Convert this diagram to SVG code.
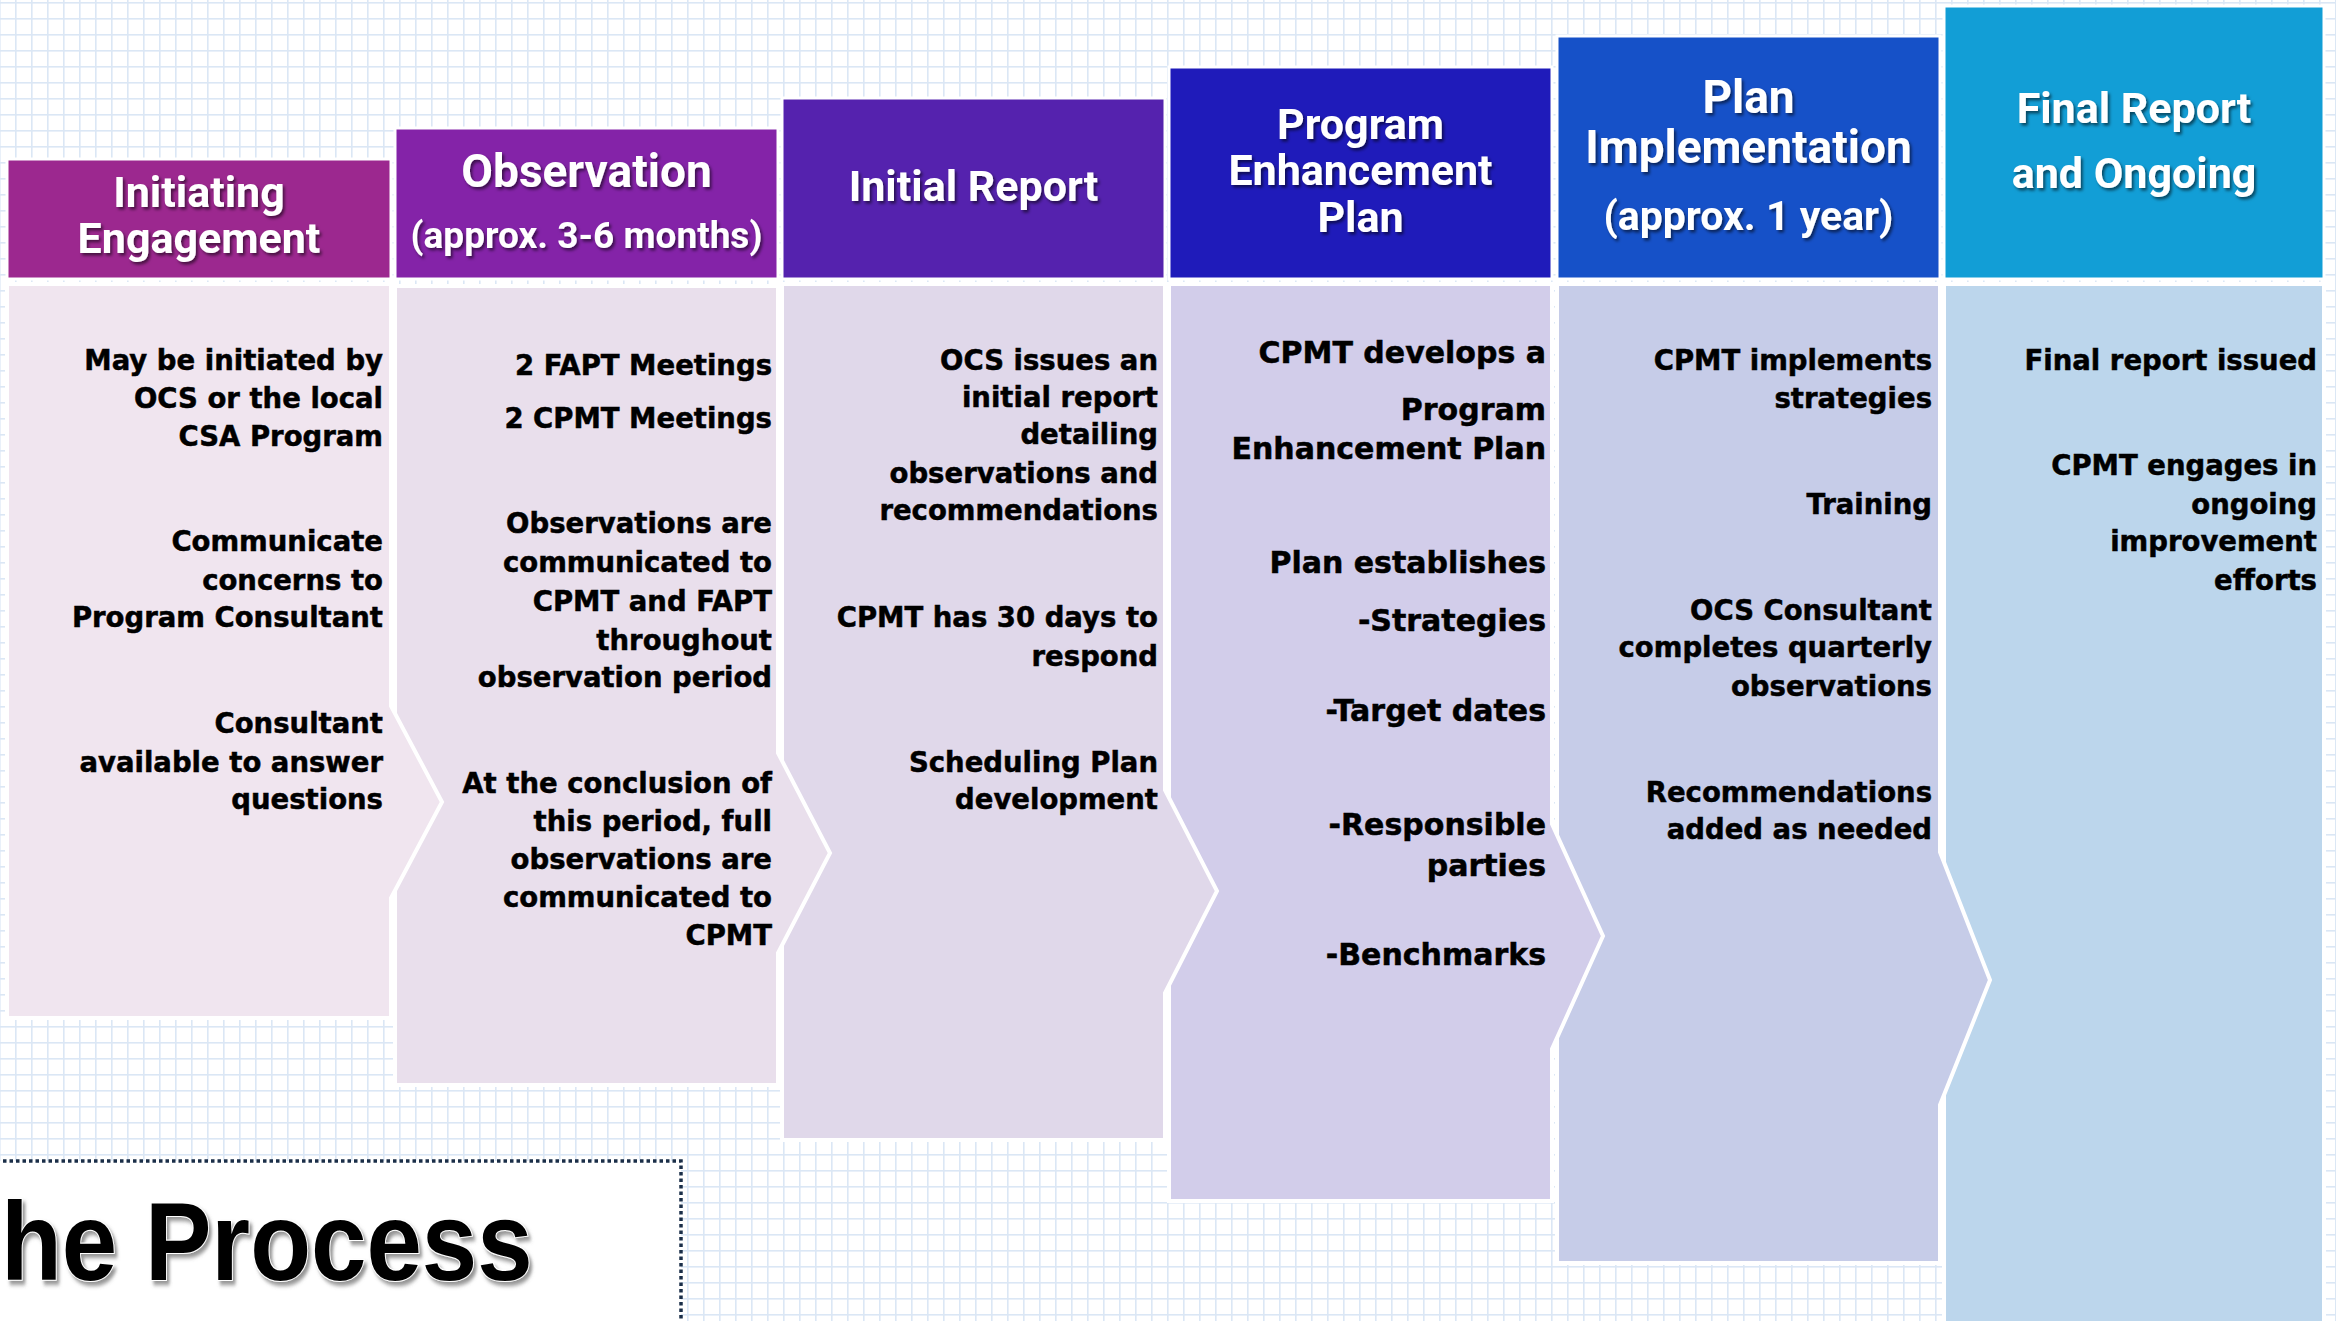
<svg xmlns="http://www.w3.org/2000/svg" width="2336" height="1321" viewBox="0 0 2336 1321">
<defs>
<pattern id="grid" x="15" y="2" width="16" height="16" patternUnits="userSpaceOnUse">
<rect x="0" y="0" width="1.6" height="16" fill="#dbe7f5"/>
<rect x="0" y="0" width="16" height="1.6" fill="#dbe7f5"/>
</pattern>
<filter id="ts" x="-10%" y="-30%" width="120%" height="160%">
<feDropShadow dx="2" dy="2.5" stdDeviation="1.5" flood-color="#000" flood-opacity="0.55"/>
</filter>
<filter id="tts" x="-10%" y="-20%" width="120%" height="140%">
<feDropShadow dx="3" dy="4" stdDeviation="2" flood-color="#666" flood-opacity="0.7"/>
</filter>
<style>
.panel{stroke:#fff;stroke-width:4;stroke-linejoin:miter}
.hdr{stroke:#fff;stroke-width:3}
.h{font-family:Roboto,"Liberation Sans",sans-serif;font-weight:bold;fill:#fff;text-anchor:middle;font-size:43px;filter:url(#ts)}
.hs{font-size:37px}
.b{font-family:"DejaVu Sans","Liberation Sans",sans-serif;font-weight:bold;font-size:27.5px;fill:#000;stroke:#000;stroke-width:0.5;text-anchor:end}
.b4{font-size:30px}
</style>
</defs>
<rect width="2336" height="1321" fill="#fff"/>
<rect width="2336" height="1321" fill="url(#grid)"/>

<g id="body-panels">
<g id="panel6"><path class="panel" fill="#bcd6ec" d="M1944 284 H2324 V1330 H1944 Z"/></g>
<g id="panel5"><path class="panel" fill="#c6cce8" d="M1557 284 H1940 V852 L1990 980 L1940 1105 V1263 H1557 Z"/></g>
<g id="panel4"><path class="panel" fill="#d2cdea" d="M1169 284 H1552 V824 L1603 936 L1552 1049 V1201 H1169 Z"/></g>
<g id="panel3"><path class="panel" fill="#e0d8ea" d="M782 284 H1165 V790 L1217 891 L1165 993 V1140 H782 Z"/></g>
<g id="panel2"><path class="panel" fill="#e9dfec" d="M395 286 H778 V753 L830 853 L778 953 V1085 H395 Z"/></g>
<g id="panel1"><path class="panel" fill="#f0e5ef" d="M7 284 H391 V706 L442 802 L391 898 V1018 H7 Z"/></g>
</g>

<g id="headers">
<g id="header1"><rect class="hdr" x="7" y="159" width="384" height="120" fill="#9c288f"/>
<text class="h" x="199" y="207">Initiating</text><text class="h" x="199" y="253">Engagement</text></g>
<g id="header2"><rect class="hdr" x="395" y="128" width="383" height="151" fill="#8423a8"/>
<text class="h" x="586.5" y="187" style="font-size:46px">Observation</text><text class="h hs" x="586.5" y="248">(approx. 3-6 months)</text></g>
<g id="header3"><rect class="hdr" x="782" y="98" width="383" height="181" fill="#5522ae"/>
<text class="h" x="973.5" y="201">Initial Report</text></g>
<g id="header4"><rect class="hdr" x="1169" y="67" width="383" height="212" fill="#1f1bba"/>
<text class="h" x="1360.5" y="139">Program</text><text class="h" x="1360.5" y="185">Enhancement</text><text class="h" x="1360.5" y="232">Plan</text></g>
<g id="header5"><rect class="hdr" x="1557" y="36" width="383" height="243" fill="#1651c8"/>
<text class="h" x="1748.5" y="113" style="font-size:46px">Plan</text><text class="h" x="1748.5" y="163" style="font-size:46px">Implementation</text><text class="h" x="1748.5" y="230" style="font-size:41px">(approx. 1 year)</text></g>
<g id="header6"><rect class="hdr" x="1944" y="6" width="380" height="273" fill="#129ed6"/>
<text class="h" x="2134" y="123">Final Report</text><text class="h" x="2134" y="188">and Ongoing</text></g>
</g>

<g id="text1">
<text class="b" x="383" y="370">May be initiated by</text>
<text class="b" x="383" y="408">OCS or the local</text>
<text class="b" x="383" y="446">CSA Program</text>
<text class="b" x="383" y="551">Communicate</text>
<text class="b" x="383" y="590">concerns to</text>
<text class="b" x="383" y="627">Program Consultant</text>
<text class="b" x="383" y="733">Consultant</text>
<text class="b" x="383" y="772">available to answer</text>
<text class="b" x="383" y="809">questions</text>
</g>
<g id="text2">
<text class="b" x="772" y="375">2 FAPT Meetings</text>
<text class="b" x="772" y="428">2 CPMT Meetings</text>
<text class="b" x="772" y="533">Observations are</text>
<text class="b" x="772" y="572">communicated to</text>
<text class="b" x="772" y="611">CPMT and FAPT</text>
<text class="b" x="772" y="650">throughout</text>
<text class="b" x="772" y="687">observation period</text>
<text class="b" x="772" y="793">At the conclusion of</text>
<text class="b" x="772" y="831">this period, full</text>
<text class="b" x="772" y="869">observations are</text>
<text class="b" x="772" y="907">communicated to</text>
<text class="b" x="772" y="945">CPMT</text>
</g>
<g id="text3">
<text class="b" x="1158" y="370">OCS issues an</text>
<text class="b" x="1158" y="407">initial report</text>
<text class="b" x="1158" y="444">detailing</text>
<text class="b" x="1158" y="483">observations and</text>
<text class="b" x="1158" y="520">recommendations</text>
<text class="b" x="1158" y="627">CPMT has 30 days to</text>
<text class="b" x="1158" y="666">respond</text>
<text class="b" x="1158" y="772">Scheduling Plan</text>
<text class="b" x="1158" y="809">development</text>
</g>
<g id="text4">
<text class="b b4" x="1546" y="363">CPMT develops a</text>
<text class="b b4" x="1546" y="420">Program</text>
<text class="b b4" x="1546" y="459">Enhancement Plan</text>
<text class="b b4" x="1546" y="573">Plan establishes</text>
<text class="b b4" x="1546" y="631">-Strategies</text>
<text class="b b4" x="1546" y="721">-Target dates</text>
<text class="b b4" x="1546" y="835">-Responsible</text>
<text class="b b4" x="1546" y="876">parties</text>
<text class="b b4" x="1546" y="965">-Benchmarks</text>
</g>
<g id="text5">
<text class="b" x="1932" y="370">CPMT implements</text>
<text class="b" x="1932" y="408">strategies</text>
<text class="b" x="1932" y="514">Training</text>
<text class="b" x="1932" y="620">OCS Consultant</text>
<text class="b" x="1932" y="657">completes quarterly</text>
<text class="b" x="1932" y="696">observations</text>
<text class="b" x="1932" y="802">Recommendations</text>
<text class="b" x="1932" y="839">added as needed</text>
</g>
<g id="text6">
<text class="b" x="2317" y="370">Final report issued</text>
<text class="b" x="2317" y="475">CPMT engages in</text>
<text class="b" x="2317" y="514">ongoing</text>
<text class="b" x="2317" y="551">improvement</text>
<text class="b" x="2317" y="590">efforts</text>
</g>

<g id="title">
<rect x="-10" y="1161" width="691" height="180" fill="#fff" stroke="#1a2e48" stroke-width="3.5" stroke-dasharray="3.5 3"/>
<text x="1" y="1280" transform="scale(0.89,1)" style="font-family:'Liberation Sans',Arial,sans-serif;font-weight:bold;font-size:112px;fill:#000;stroke:#fff;stroke-width:2;paint-order:stroke;filter:url(#tts)">he Process</text>
</g>
</svg>
